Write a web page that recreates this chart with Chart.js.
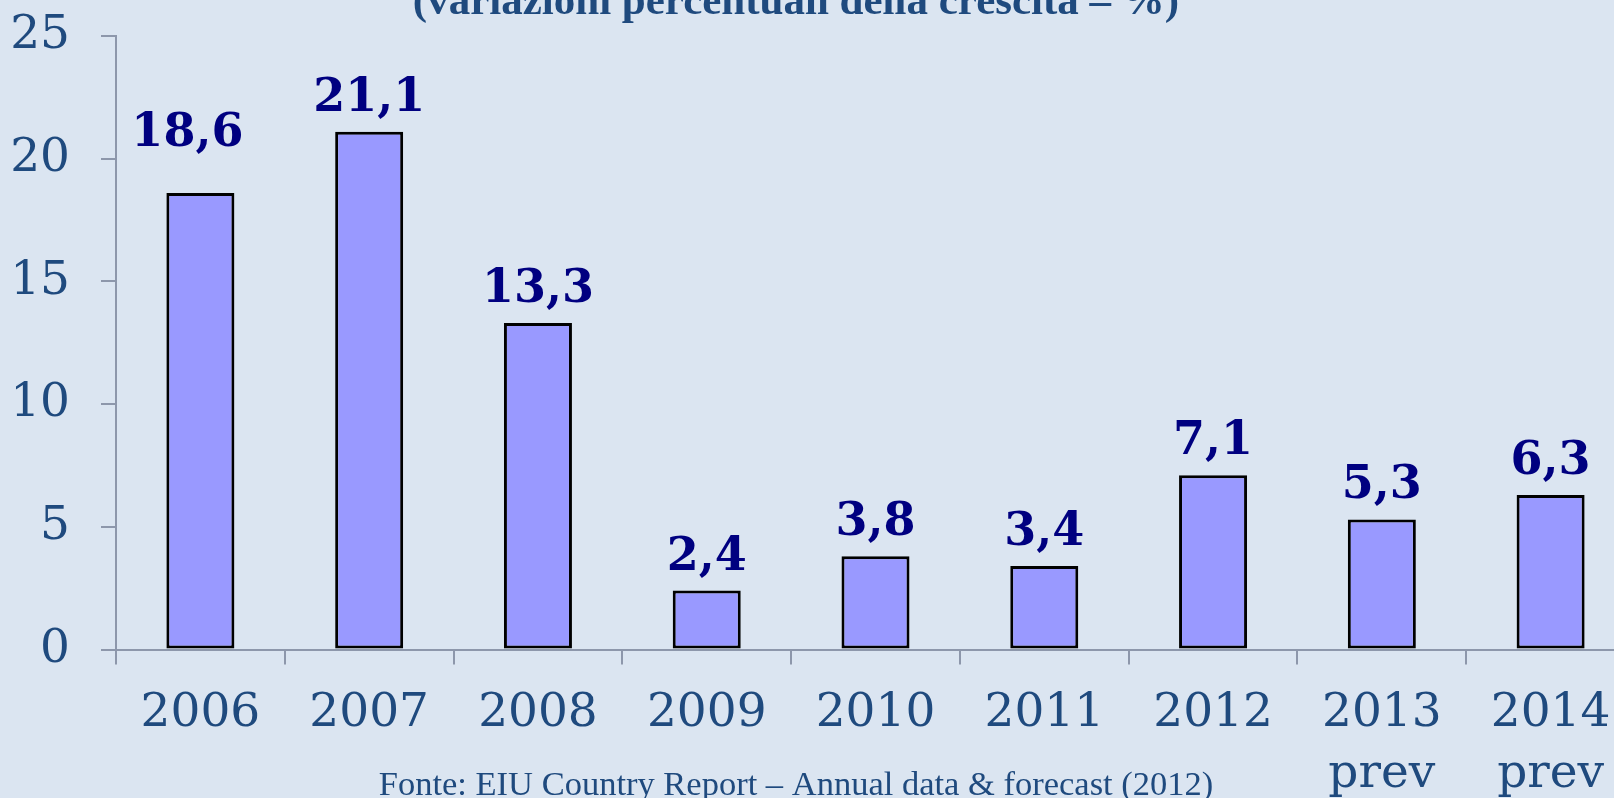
<!DOCTYPE html>
<html lang="it">
<head>
<meta charset="utf-8">
<title>Crescita</title>
<script src="https://cdn.jsdelivr.net/npm/chart.js@4.4.1/dist/chart.umd.min.js"></script>
<style>
    html, body {
        margin: 0;
        padding: 0;
        background: #DBE5F1;
        overflow: hidden;
    }
    #wrap {
        width: 1640px;
        height: 798px;
    }
</style>
</head>
<body>
<div id="wrap">
    <canvas id="growthChart" width="1640" height="798"></canvas>
</div>
<script>
// Data
const years = ['2006', '2007', '2008', '2009', '2010', '2011', '2012', ['2013', 'prev'], ['2014', 'prev']];
const growth = [18.6, 21.1, 13.3, 2.4, 3.8, 3.4, 7.1, 5.3, 6.3];
const yMin = 0;
const yMax = 25;
const yStep = 5;

const titleText = '(variazioni percentuali della crescita \u2013 %)';
const sourceText = 'Fonte: EIU Country Report \u2013 Annual data & forecast (2012)';

// Colours
const textBlue = '#1F4A7E';
const labelNavy = '#000080';
const barFill = '#9999FF';
const axisGray = '#8D97AB';

// Value labels above the bars
const valueLabels = {
    id: 'valueLabels',
    afterDatasetsDraw(chart, args, opts) {
        const ctx = chart.ctx;
        const meta = chart.getDatasetMeta(0);
        ctx.save();
        ctx.font = 'bold 46px "DejaVu Serif"';
        ctx.fillStyle = labelNavy;
        ctx.textAlign = 'center';
        ctx.textBaseline = 'alphabetic';
        meta.data.forEach((bar, i) => {
            const value = chart.data.datasets[0].data[i];
            const text = value.toFixed(1).replace('.', ',');
            const nudge = opts.nudge[i] || [0, 0];
            ctx.fillText(text, bar.x + nudge[0], bar.y - opts.gap + nudge[1]);
        });
        ctx.restore();
    }
};

// Title (cut at the top) and source line
const slideTexts = {
    id: 'slideTexts',
    afterDraw(chart) {
        const ctx = chart.ctx;
        ctx.save();
        ctx.fillStyle = textBlue;
        ctx.textAlign = 'center';
        ctx.textBaseline = 'alphabetic';
        ctx.font = 'bold 43px "Liberation Serif"';
        ctx.fillText(titleText, 796, 14);
        ctx.font = '34.5px "Liberation Serif"';
        ctx.fillText(sourceText, 796, 795);
        ctx.restore();
    }
};

const ctx = document.getElementById('growthChart').getContext('2d');

new Chart(ctx, {
    type: 'bar',
    data: {
        labels: years,
        datasets: [{
            data: growth,
            backgroundColor: barFill,
            borderColor: '#000000',
            borderWidth: 3,
            borderSkipped: false,
            categoryPercentage: 1.0,
            barPercentage: 0.403
        }]
    },
    options: {
        responsive: false,
        animation: false,
        layout: {
            padding: { top: 36, right: 5, left: 0, bottom: 0 }
        },
        plugins: {
            legend: { display: false },
            tooltip: { enabled: false },
            valueLabels: {
                gap: 21,
                nudge: { 0: [-13, -26] }
            }
        },
        scales: {
            x: {
                grid: {
                    offset: true,
                    drawOnChartArea: false,
                    tickLength: 15,
                    color: axisGray,
                    lineWidth: 2
                },
                border: { color: axisGray, width: 2 },
                ticks: {
                    color: textBlue,
                    font: { family: 'DejaVu Serif', size: 47, lineHeight: 1.3 },
                    padding: 19,
                    maxRotation: 0,
                    autoSkip: false
                },
                afterFit: (scale) => {
                    scale.height = 148.5;
                    scale.paddingLeft = 0;
                    scale.paddingRight = 0;
                }
            },
            y: {
                min: yMin,
                max: yMax,
                grid: {
                    drawOnChartArea: false,
                    tickLength: 15,
                    color: axisGray,
                    lineWidth: 2
                },
                border: { color: axisGray, width: 2 },
                ticks: {
                    stepSize: yStep,
                    color: textBlue,
                    font: { family: 'DejaVu Serif', size: 47 },
                    padding: 31
                },
                afterFit: (scale) => {
                    scale.width = 116;
                    scale.paddingTop = 0;
                    scale.paddingBottom = 0;
                }
            }
        }
    },
    plugins: [valueLabels, slideTexts]
});
</script>
</body>
</html>
